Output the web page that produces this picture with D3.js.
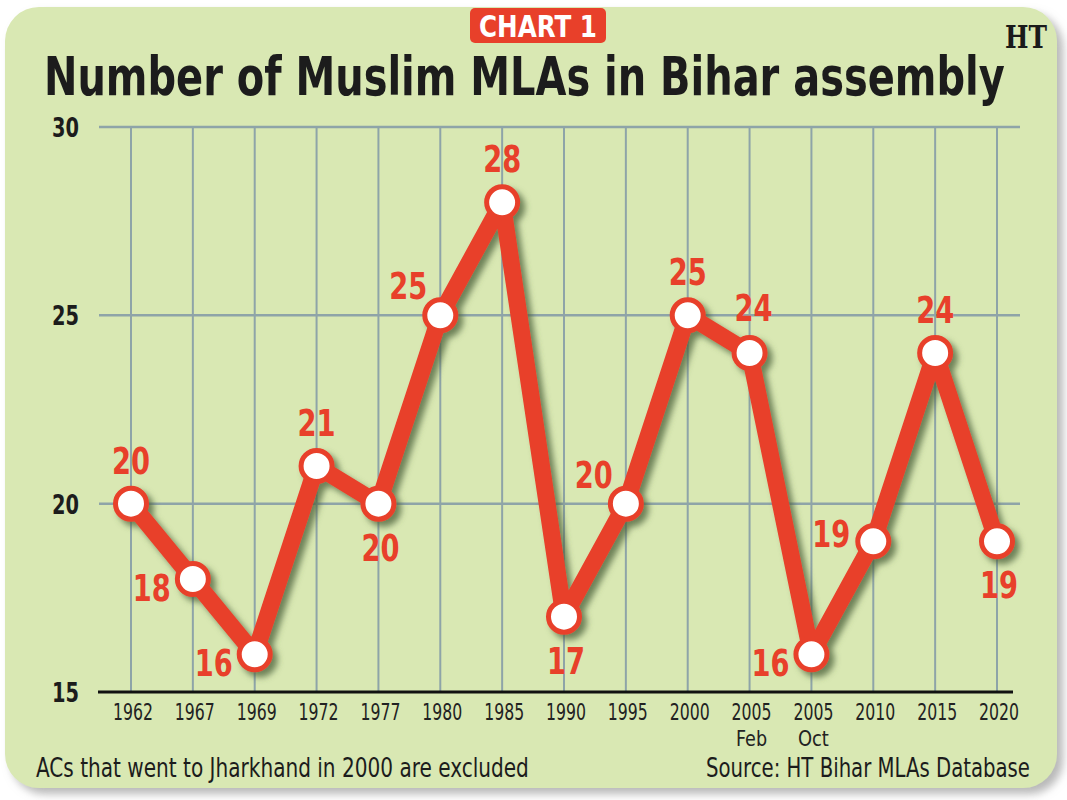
<!DOCTYPE html>
<html>
<head>
<meta charset="utf-8">
<script src="https://cdn.jsdelivr.net/npm/d3@7"></script>
<style>
  body { margin: 0; background: #fff; }
  svg { display: block; }
</style>
</head>
<body>
<div id="container"></div>
<script>
// DATA ####################################
const elections = ["1962", "1967", "1969", "1972", "1977", "1980", "1985", "1990",
  "1995", "2000", "2005 Feb", "2005 Oct", "2010", "2015", "2020"];
const muslimMLAs = [20, 18, 16, 21, 20, 25, 28, 17, 20, 25, 24, 16, 19, 24, 19];
const yTicks = [15, 20, 25, 30];
// which side of the point each value label sits on
const labelSide = ["n", "sw", "sw", "n", "s", "nw", "n", "s", "nw", "n", "ne", "sw", "w", "n", "s"];

// CONSTANTS ###############################
const width = 1067, height = 800;
const RED = "#e8402a", BG = "#d9e8b3", GRID = "#8ea4a8";
const condensed = "'DejaVu Sans Condensed', 'Liberation Sans Narrow', sans-serif";

const labelOffset = {
  n:  { dx: 0,   dy: -30, anchor: "middle" },
  ne: { dx: 4,   dy: -32, anchor: "middle" },
  s:  { dx: 2,   dy: 57,  anchor: "middle" },
  sw: { dx: -22, dy: 22,  anchor: "end" },
  w:  { dx: -23, dy: 6,   anchor: "end" },
  nw: { dx: -13, dy: -16, anchor: "end" }
};

const data = elections.map((e, i) => ({ year: e, value: muslimMLAs[i], side: labelSide[i] }));

// squeeze a text horizontally (around its x,y) so it is w pixels wide
function fit(sel, w) {
  sel.each(function () {
    const t = d3.select(this);
    const n = this.getComputedTextLength();
    const x = +t.attr("x"), y = +t.attr("y");
    t.attr("transform", `translate(${x},${y}) scale(${w / n},1) translate(${-x},${-y})`);
  });
}

// SCALES ##################################
const xScale = d3.scalePoint()
  .domain(elections)
  .range([131, 997]);

const yScale = d3.scaleLinear()
  .domain([15, 30])
  .range([692, 127]);

// SVG #####################################
const svg = d3.select("#container")
  .append("svg")
  .attr("width", width)
  .attr("height", height);

const defs = svg.append("defs");
const shadow = defs.append("filter").attr("id", "shadow")
  .attr("x", "-20%").attr("y", "-20%").attr("width", "140%").attr("height", "140%");
shadow.append("feDropShadow")
  .attr("dx", 5).attr("dy", 5).attr("stdDeviation", 3)
  .attr("flood-color", "#4a5e3a").attr("flood-opacity", 0.75);

const cardShadow = defs.append("filter").attr("id", "cardShadow")
  .attr("x", "-5%").attr("y", "-5%").attr("width", "110%").attr("height", "110%");
cardShadow.append("feDropShadow")
  .attr("dx", 6).attr("dy", 6).attr("stdDeviation", 4)
  .attr("flood-color", "#9a9a9a").attr("flood-opacity", 0.7);

// card background
svg.append("rect")
  .attr("x", 5).attr("y", 7)
  .attr("width", 1052).attr("height", 781)
  .attr("rx", 34)
  .attr("fill", BG)
  .attr("filter", "url(#cardShadow)");

// CHART 1 badge
svg.append("rect")
  .attr("x", 470).attr("y", 8)
  .attr("width", 136).attr("height", 35)
  .attr("rx", 5)
  .attr("fill", RED);
svg.append("text")
  .attr("x", 538).attr("y", 37)
  .attr("text-anchor", "middle")
  .attr("fill", "#fff")
  .attr("font-family", condensed)
  .attr("font-weight", "bold")
  .attr("font-size", 31)
  .text("CHART 1")
  .call(fit, 118);

// HT logo
svg.append("text")
  .attr("x", 1026).attr("y", 48)
  .attr("text-anchor", "middle")
  .attr("fill", "#1a1a1a")
  .attr("font-family", "'DejaVu Serif', serif")
  .attr("font-weight", "bold")
  .attr("font-size", 31)
  .text("HT")
  .call(fit, 42);

// title
svg.append("text")
  .attr("x", 44).attr("y", 95)
  .attr("fill", "#1c1c1c")
  .attr("font-family", condensed)
  .attr("font-weight", "bold")
  .attr("font-size", 54)
  .text("Number of Muslim MLAs in Bihar assembly")
  .call(fit, 961);

// GRID ####################################
svg.append("g")
  .selectAll("line.vgrid")
  .data(elections)
  .join("line")
  .attr("class", "vgrid")
  .attr("x1", d => xScale(d)).attr("x2", d => xScale(d))
  .attr("y1", yScale(30)).attr("y2", yScale(15))
  .attr("stroke", GRID)
  .attr("stroke-width", 2);

svg.append("g")
  .selectAll("line.hgrid")
  .data(yTicks.filter(t => t > 15))
  .join("line")
  .attr("class", "hgrid")
  .attr("x1", 99).attr("x2", 1020)
  .attr("y1", d => yScale(d)).attr("y2", d => yScale(d))
  .attr("stroke", GRID)
  .attr("stroke-width", 2.5);

// base line at 15
svg.append("line")
  .attr("x1", 98).attr("x2", 1013)
  .attr("y1", yScale(15)).attr("y2", yScale(15))
  .attr("stroke", "#111")
  .attr("stroke-width", 3);

// Y LABELS
svg.append("g")
  .selectAll("text")
  .data(yTicks)
  .join("text")
  .attr("x", 79)
  .attr("y", d => yScale(d) + 10)
  .attr("text-anchor", "end")
  .attr("fill", "#1c1c1c")
  .attr("font-family", condensed)
  .attr("font-weight", "bold")
  .attr("font-size", 27)
  .text(d => d)
  .call(fit, 27);

// X LABELS
svg.append("g")
  .selectAll("text")
  .data(elections)
  .join("text")
  .attr("x", d => xScale(d) + 2)
  .attr("y", 720)
  .attr("text-anchor", "middle")
  .attr("fill", "#222")
  .attr("font-family", condensed)
  .attr("font-size", 23)
  .text(d => d.split(" ")[0])
  .call(fit, 40);

svg.append("g")
  .selectAll("text")
  .data(elections.filter(d => d.includes(" ")))
  .join("text")
  .attr("x", d => xScale(d) + 2)
  .attr("y", 746)
  .attr("text-anchor", "middle")
  .attr("fill", "#222")
  .attr("font-family", condensed)
  .attr("font-size", 21)
  .text(d => d.split(" ")[1])
  .call(fit, 31);

// LINE + POINTS ###########################
const line = d3.line()
  .x(d => xScale(d.year))
  .y(d => yScale(d.value));

const series = svg.append("g").attr("filter", "url(#shadow)");

series.append("path")
  .datum(data)
  .attr("d", line)
  .attr("fill", "none")
  .attr("stroke", RED)
  .attr("stroke-width", 17)
  .attr("stroke-linejoin", "round");

series.selectAll("circle")
  .data(data)
  .join("circle")
  .attr("cx", d => xScale(d.year))
  .attr("cy", d => yScale(d.value))
  .attr("r", 15.5)
  .attr("fill", "#fff")
  .attr("stroke", RED)
  .attr("stroke-width", 5);

// VALUE LABELS
svg.append("g")
  .selectAll("text")
  .data(data)
  .join("text")
  .attr("x", d => xScale(d.year) + labelOffset[d.side].dx)
  .attr("y", d => yScale(d.value) + labelOffset[d.side].dy)
  .attr("text-anchor", d => labelOffset[d.side].anchor)
  .attr("fill", RED)
  .attr("font-family", condensed)
  .attr("font-weight", "bold")
  .attr("font-size", 38)
  .text(d => d.value)
  .call(fit, 38);

// FOOTER ##################################
svg.append("text")
  .attr("x", 36).attr("y", 777)
  .attr("fill", "#1c1c1c")
  .attr("font-family", condensed)
  .attr("font-size", 27)
  .text("ACs that went to Jharkhand in 2000 are excluded")
  .call(fit, 493);

svg.append("text")
  .attr("x", 1030).attr("y", 777)
  .attr("text-anchor", "end")
  .attr("fill", "#1c1c1c")
  .attr("font-family", condensed)
  .attr("font-size", 27)
  .text("Source: HT Bihar MLAs Database")
  .call(fit, 324);
</script>
</body>
</html>
